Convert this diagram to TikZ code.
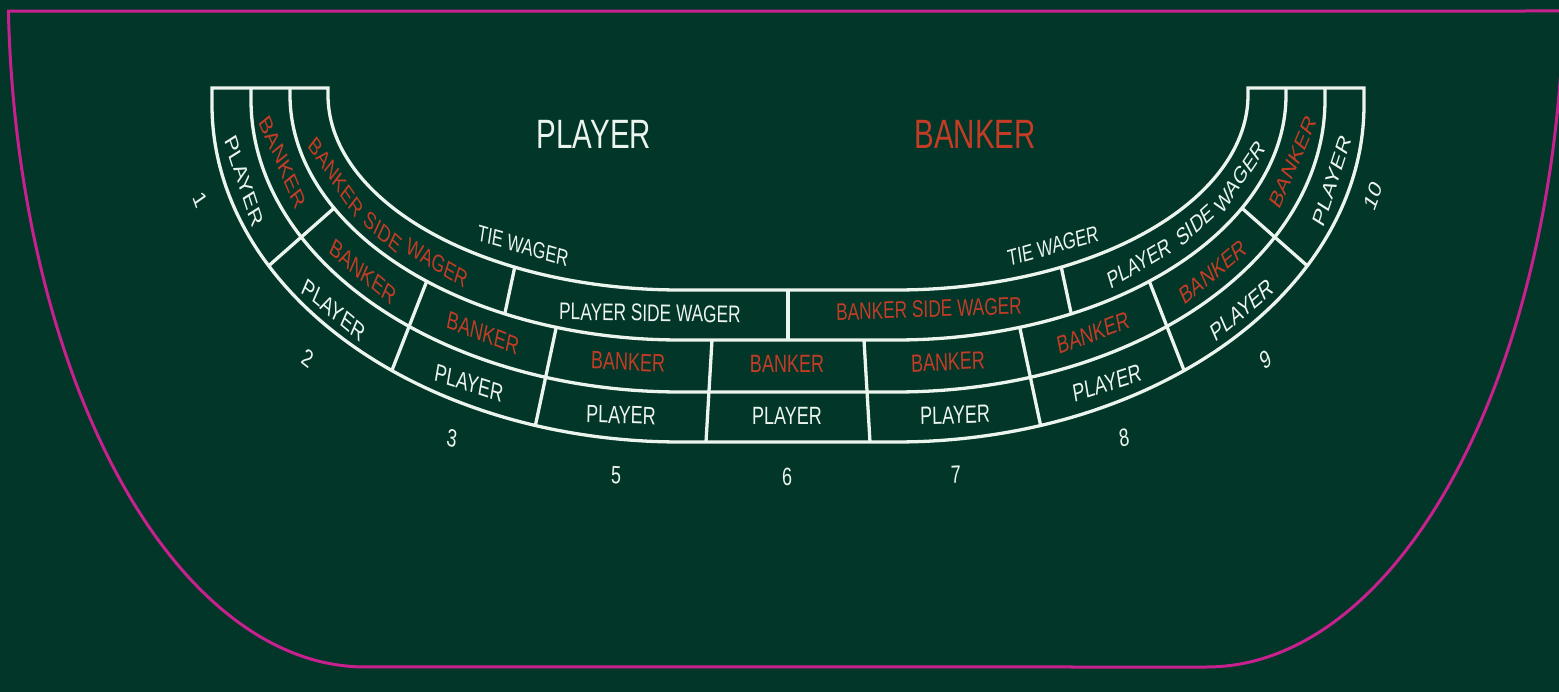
\documentclass[tikz,border=0pt]{standalone}
\usepackage{fontspec}
\setmainfont{Liberation Sans}
\definecolor{feltbg}{RGB}{1,54,40}
\definecolor{wcol}{RGB}{236,244,238}
\definecolor{rcol}{RGB}{196,60,38}
\definecolor{magcol}{RGB}{200,32,142}
\tikzset{
  wline/.style={draw=wcol, line width=3.3pt, line join=miter},
  magline/.style={draw=magcol, line width=3pt},
  tilt/.style={rotate={atan(0.72*tan(#1))}},
  cell/.style={font=\fontsize{25}{25}\selectfont, inner sep=0pt},
  side/.style={font=\fontsize{24}{24}\selectfont, inner sep=0pt},
  tie/.style={font=\fontsize{23}{23}\selectfont, inner sep=0pt},
  big/.style={font=\fontsize{41}{41}\selectfont, inner sep=0pt},
  num/.style={font=\fontsize{25}{25}\selectfont, inner sep=0pt, text=wcol},
  wt/.style={text=wcol},
  rd/.style={text=rcol}
}
\begin{document}
\begin{tikzpicture}[x=1pt, y=-1pt]
\useasboundingbox (0,0) rectangle (1559,692);
\fill[feltbg] (0,0) rectangle (1559,692);

% magenta table edge
\draw[magline] (1575,11) -- plot[domain=2.6:90, samples=100] ({365-357*cos(\x)},{-20+687*sin(\x)})
  -- plot[domain=90:2.6, samples=100] ({1207+357*cos(\x)},{-20+687*sin(\x)});

% horseshoe outline: outer edge and inner (tie) edge
\draw[wline] (212,88) -- plot[domain=0:90, samples=91] ({680-468*cos(\x)},{105+337*sin(\x)})
  -- plot[domain=90:0, samples=91] ({896+468*cos(\x)},{105+337*sin(\x)})
  -- (1364,88) -- (1248,88)
  -- plot[domain=0:90, samples=91] ({896+352*cos(\x)},{95+195*sin(\x)})
  -- plot[domain=90:0, samples=91] ({680-352*cos(\x)},{95+195*sin(\x)})
  -- (328,88) -- cycle;
% player / banker separator
\draw[wline] (251,88) -- plot[domain=0:90, samples=91] ({680-429*cos(\x)},{100+292*sin(\x)})
  -- plot[domain=90:0, samples=91] ({896+429*cos(\x)},{100+292*sin(\x)}) -- (1325,88);
% banker / side wager separator
\draw[wline] (290,88) -- plot[domain=0:90, samples=91] ({680-390*cos(\x)},{95+245*sin(\x)})
  -- plot[domain=90:0, samples=91] ({896+390*cos(\x)},{95+245*sin(\x)}) -- (1286,88);

% divider end points
\coordinate (d12o) at ({680-468*cos(28.5)},{105+337*sin(28.5)});
\coordinate (d12i) at ({680-390*cos(27.5)},{95+245*sin(27.5)});
\coordinate (d23o) at ({680-468*cos(52)},{105+337*sin(52)});
\coordinate (d23i) at ({680-390*cos(49.5)},{95+245*sin(49.5)});
\coordinate (d35o) at ({680-468*cos(72)},{105+337*sin(72)});
\coordinate (d35i) at ({680-390*cos(71.5)},{95+245*sin(71.5)});
\coordinate (d56o) at (706,442);
\coordinate (d56i) at (712,340);
\coordinate (tlo) at ({680-390*cos(63.3)},{95+245*sin(63.3)});
\coordinate (tli) at ({680-352*cos(62)},{95+195*sin(62)});
\coordinate (cmo) at (788,340);
\coordinate (cmi) at (788,290);
\coordinate (d67o) at (870,442);
\coordinate (d67i) at (864,340);
\coordinate (d78o) at ({896+468*cos(72)},{105+337*sin(72)});
\coordinate (d78i) at ({896+390*cos(71.5)},{95+245*sin(71.5)});
\coordinate (d89o) at ({896+468*cos(52)},{105+337*sin(52)});
\coordinate (d89i) at ({896+390*cos(49.5)},{95+245*sin(49.5)});
\coordinate (d910o) at ({896+468*cos(28.5)},{105+337*sin(28.5)});
\coordinate (d910i) at ({896+390*cos(27.5)},{95+245*sin(27.5)});
\coordinate (tro) at ({896+390*cos(63.3)},{95+245*sin(63.3)});
\coordinate (tri) at ({896+352*cos(62)},{95+195*sin(62)});

\foreach \a/\b in {d12o/d12i, d23o/d23i, d35o/d35i, d56o/d56i, tlo/tli, cmo/cmi,
                   d67o/d67i, d78o/d78i, d89o/d89i, d910o/d910i, tro/tri}
  \draw[wline] (\a) -- (\b);

% texts (horizontally condensed like the reference)
\begin{scope}[x=1.388889pt, xscale=0.72, transform shape]
\node[big, wt] (bigP) at (594,134) {PLAYER};
\node[big, rd] (bigB) at (975,134) {BANKER};

\node[cell, wt, tilt=-72] (p1) at (244,181) {PLAYER};
\node[cell, rd, tilt=-67] (b1) at (283,162) {BANKER};
\node[side, rd, tilt=-56] (lbs1) at (336,177) {BANKER};
\node[side, rd, tilt=-42] (lbs2) at (383,232) {SIDE};
\node[side, rd, tilt=-31] (lbs3) at (437,263) {WAGER};
\node[cell, rd, tilt=-40] (b2) at (363,272) {BANKER};
\node[cell, wt, tilt=-40] (p2) at (334,310) {PLAYER};
\node[cell, rd, tilt=-21] (b3) at (483,333) {BANKER};
\node[cell, wt, tilt=-18] (p3) at (469,383) {PLAYER};
\node[cell, rd, tilt=-3]  (b5) at (628,362) {BANKER};
\node[cell, wt, tilt=-2]  (p5) at (621,415) {PLAYER};
\node[cell, rd] (b6) at (787,364) {BANKER};
\node[cell, wt] (p6) at (787,416) {PLAYER};
\node[cell, rd, tilt=3]  (b7) at (948,362) {BANKER};
\node[cell, wt, tilt=2]  (p7) at (955,415) {PLAYER};
\node[cell, rd, tilt=21] (b8) at (1093,333) {BANKER};
\node[cell, wt, tilt=18] (p8) at (1107,383) {PLAYER};
\node[cell, rd, tilt=40] (b9) at (1213,272) {BANKER};
\node[cell, wt, tilt=40] (p9) at (1242,310) {PLAYER};
\node[cell, rd, tilt=67] (b10) at (1293,162) {BANKER};
\node[cell, wt, tilt=72] (p10) at (1332,181) {PLAYER};
\node[side, wt, tilt=31] (rps1) at (1139,263) {PLAYER};
\node[side, wt, tilt=42] (rps2) at (1195,225) {SIDE};
\node[side, wt, tilt=56] (rps3) at (1240,177) {WAGER};
\node[tie, wt, tilt=-16] (tieL) at (523,246) {TIE WAGER};
\node[tie, wt, tilt=16]  (tieR) at (1053,246) {TIE WAGER};
\node[side, wt, tilt=-1] (cps) at (650,313) {PLAYER SIDE WAGER};
\node[side, rd, tilt=2]  (cbs) at (929,309) {BANKER SIDE WAGER};

\node[num, tilt=-70] (n1) at (200,200) {1};
\node[num, tilt=-38] (n2) at (308,358) {2};
\node[num, tilt=-15] (n3) at (452,438) {3};
\node[num, tilt=-3]  (n5) at (616,475) {5};
\node[num]           (n6) at (787,477) {6};
\node[num, tilt=3]   (n7) at (956,475) {7};
\node[num, tilt=15]  (n8) at (1124,438) {8};
\node[num, tilt=38]  (n9) at (1266,360) {9};
\node[num, tilt=70]  (n10) at (1373,196) {10};
\end{scope}
\end{tikzpicture}
\end{document}
